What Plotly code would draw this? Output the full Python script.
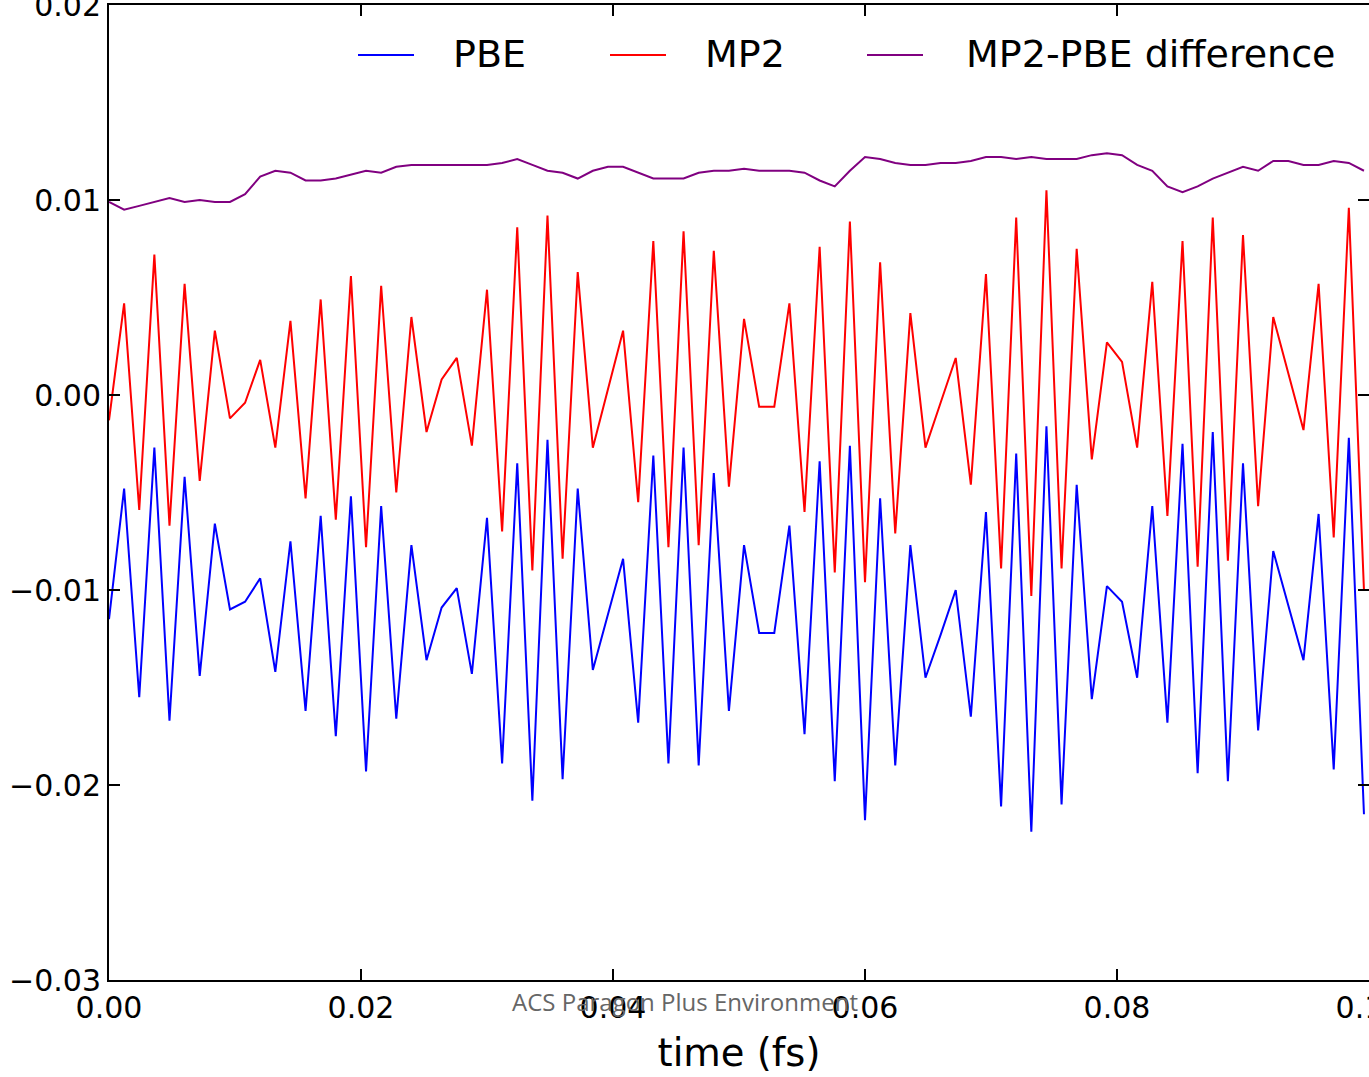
import plotly.graph_objects as go

# ---- data ----
n_steps = 84
dt_fs = 0.0012
time_fs = [round(i * dt_fs, 4) for i in range(n_steps)]

pbe = [-0.0115, -0.0048, -0.0155, -0.0027, -0.0167, -0.0042, -0.0144, -0.0066, -0.0110, -0.0106,
       -0.0094, -0.0142, -0.0075, -0.0162, -0.0062, -0.0175, -0.0052, -0.0193, -0.0057, -0.0166,
       -0.0077, -0.0136, -0.0109, -0.0099, -0.0143, -0.0063, -0.0189, -0.0035, -0.0208, -0.0023,
       -0.0197, -0.0048, -0.0141, -0.0112, -0.0084, -0.0168, -0.0031, -0.0189, -0.0027, -0.0190,
       -0.0040, -0.0162, -0.0077, -0.0122, -0.0122, -0.0067, -0.0174, -0.0034, -0.0198, -0.0026,
       -0.0218, -0.0053, -0.0190, -0.0077, -0.0145, -0.0123, -0.0100, -0.0165, -0.0060, -0.0211,
       -0.0030, -0.0224, -0.0016, -0.0210, -0.0046, -0.0156, -0.0098, -0.0106, -0.0145, -0.0057,
       -0.0168, -0.0025, -0.0194, -0.0019, -0.0198, -0.0035, -0.0172, -0.0080, -0.0108, -0.0136,
       -0.0061, -0.0192, -0.0022, -0.0215]

mp2 = [-0.0013, 0.0047, -0.0059, 0.0072, -0.0067, 0.0057, -0.0044, 0.0033, -0.0012, -0.0004,
       0.0018, -0.0027, 0.0038, -0.0053, 0.0049, -0.0064, 0.0061, -0.0078, 0.0056, -0.0050,
       0.0040, -0.0019, 0.0008, 0.0019, -0.0026, 0.0054, -0.0070, 0.0086, -0.0090, 0.0092,
       -0.0084, 0.0063, -0.0027, 0.0003, 0.0033, -0.0055, 0.0079, -0.0078, 0.0084, -0.0077,
       0.0074, -0.0047, 0.0039, -0.0006, -0.0006, 0.0047, -0.0060, 0.0076, -0.0091, 0.0089,
       -0.0096, 0.0068, -0.0071, 0.0042, -0.0027, -0.0004, 0.0019, -0.0046, 0.0062, -0.0089,
       0.0091, -0.0103, 0.0105, -0.0089, 0.0075, -0.0033, 0.0027, 0.0017, -0.0027, 0.0058,
       -0.0062, 0.0079, -0.0088, 0.0091, -0.0085, 0.0082, -0.0057, 0.0040, 0.0011, -0.0018,
       0.0057, -0.0073, 0.0096, -0.0100]

diff = [0.0099, 0.0095, 0.0097, 0.0099, 0.0101, 0.0099, 0.0100, 0.0099, 0.0099, 0.0103,
        0.0112, 0.0115, 0.0114, 0.0110, 0.0110, 0.0111, 0.0113, 0.0115, 0.0114, 0.0117,
        0.0118, 0.0118, 0.0118, 0.0118, 0.0118, 0.0118, 0.0119, 0.0121, 0.0118, 0.0115,
        0.0114, 0.0111, 0.0115, 0.0117, 0.0117, 0.0114, 0.0111, 0.0111, 0.0111, 0.0114,
        0.0115, 0.0115, 0.0116, 0.0115, 0.0115, 0.0115, 0.0114, 0.0110, 0.0107, 0.0115,
        0.0122, 0.0121, 0.0119, 0.0118, 0.0118, 0.0119, 0.0119, 0.0120, 0.0122, 0.0122,
        0.0121, 0.0122, 0.0121, 0.0121, 0.0121, 0.0123, 0.0124, 0.0123, 0.0118, 0.0115,
        0.0107, 0.0104, 0.0107, 0.0111, 0.0114, 0.0117, 0.0115, 0.0120, 0.0120, 0.0118,
        0.0118, 0.0120, 0.0119, 0.0115]

series_names = ["PBE", "MP2", "MP2-PBE difference"]
series_colors = ["#0000ff", "#ff0000", "#800080"]

x_ticks = [0.00, 0.02, 0.04, 0.06, 0.08, 0.10]
y_ticks = [-0.03, -0.02, -0.01, 0.00, 0.01, 0.02]
x_title = "time (fs)"
watermark = "ACS Paragon Plus Environment"

# ---- figure ----
W, H = 1369, 1077
L, R, T, B = 109, 0, 5, 97
PW, PH = W - L - R, H - T - B


def px(xp):
    return (xp - L) / PW


def py(yp):
    return (H - B - yp) / PH


fig = go.Figure()
for name, vals, col in zip(series_names, [pbe, mp2, diff], series_colors):
    fig.add_trace(go.Scatter(x=time_fs, y=vals, mode="lines", name=name,
                             line=dict(color=col, width=2), showlegend=False))

axis_common = dict(showgrid=False, zeroline=False, showline=True, linecolor="black",
                   linewidth=2, mirror="ticks", ticks="inside", ticklen=11, tickwidth=1.5,
                   tickcolor="black", ticklabeloverflow="allow", automargin=False,
                   tickfont=dict(family="DejaVu Sans", size=30, color="black"))

fig.update_layout(
    width=W, height=H,
    margin=dict(l=L, r=R, t=T, b=B, pad=0, autoexpand=False),
    paper_bgcolor="white", plot_bgcolor="white",
    font=dict(family="DejaVu Sans", color="black"),
    xaxis=dict(range=[0, 0.1], tickvals=x_ticks, tickformat=".2f",
               title=dict(text=x_title, font=dict(family="DejaVu Sans", size=38.5), standoff=15),
               **axis_common),
    yaxis=dict(range=[-0.03, 0.02], tickvals=y_ticks, tickformat=".2f", **axis_common),
    showlegend=False,
)

# legend (matplotlib-style, no frame)
legend_line_x = [(358, 414), (610, 666), (867, 923)]
legend_text_x = [451, 703, 964]
legend_y = 55
for (x0, x1), tx, name, col in zip(legend_line_x, legend_text_x, series_names, series_colors):
    fig.add_shape(type="line", xref="paper", yref="paper",
                  x0=px(x0), x1=px(x1), y0=py(legend_y), y1=py(legend_y),
                  line=dict(color=col, width=2))
    fig.add_annotation(text=name, xref="paper", yref="paper", x=px(tx), y=py(legend_y - 1),
                       xanchor="left", yanchor="middle", showarrow=False,
                       font=dict(family="DejaVu Sans", size=38, color="black"))

fig.add_annotation(text=watermark, xref="paper", yref="paper",
                   x=px(684.5), y=py(1001),
                   xanchor="center", yanchor="middle", showarrow=False,
                   font=dict(family="Open Sans", size=24, color="#666666"))

fig.write_html("out.html", config={"displayModeBar": False},
               post_script="document.body.style.margin='0';")
